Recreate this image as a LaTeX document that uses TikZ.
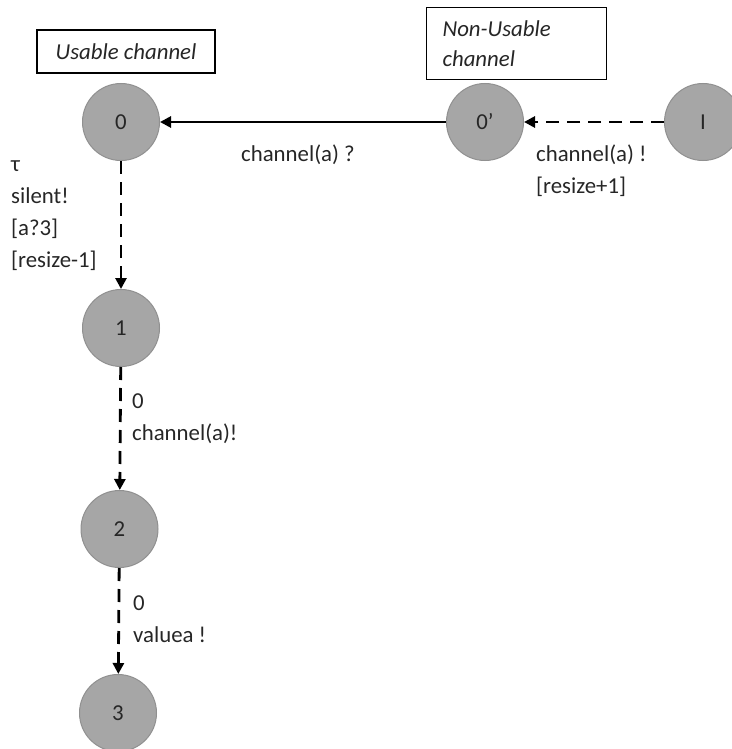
\documentclass[tikz,border=0pt]{standalone}
\usepackage{fontspec}
\setmainfont{Carlito}
\usetikzlibrary{arrows.meta}
\definecolor{stategray}{HTML}{A6A6A6}
\definecolor{stateedge}{HTML}{909090}
\definecolor{ink}{HTML}{262626}
\begin{document}
\begin{tikzpicture}[x=1pt,y=-1pt,
  every node/.style={font=\fontsize{22.8}{32}\selectfont, inner sep=0pt, text=ink},
  state/.style={circle, fill=stategray, draw=stateedge, line width=1pt, minimum size=77pt},
  tag/.style={draw=black, line width=1.1pt, font=\fontsize{22.8}{30}\selectfont\itshape},
  lbl/.style={align=left, anchor=west},
  trans/.style={line width=2.8pt, -{Triangle[length=11pt,width=11pt]}},
  dashtrans/.style={trans, dash pattern=on 13pt off 8pt}]
\useasboundingbox (0,0) rectangle (731,749);

% states
\node[state] (s0)  at (121,122) {0};
\node[state] (s0p) at (485,122) {0\textquoteright};
\node[state] (sI)  at (703,122) {I};
\node[state] (s1)  at (121,328) {1};
\node[state] (s2)  at (119.5,529) {2};
\node[state] (s3)  at (118,713) {3};

% region tags
\node[tag, minimum width=178pt, minimum height=43pt] (tagU) at (126,51.5) {Usable channel};
\node[tag, minimum width=180pt, minimum height=72pt, anchor=north west, align=left,
      text width=148pt] (tagN) at (426,7) {Non-Usable\\channel};

% transitions
\draw[trans] (s0p) -- (s0);
\draw[dashtrans] (sI) -- (s0p);
\draw[dashtrans] (s0) -- (s1);
\draw[dashtrans] (s1) -- (s2);
\draw[dashtrans] (s2) -- (s3);

% transition labels
\node[lbl] (l1) at (241,155) {channel(a) ?};
\node[lbl] (l2) at (536,171) {channel(a) !\\{}[resize+1]};
\node[lbl] (l3) at (11,216) {τ\\silent!\\{}[a?3]\\{}[resize-1]};
\node[lbl] (l4) at (132,419) {0\\channel(a)!};
\node[lbl] (l5) at (133,619) {0\\valuea !};
\end{tikzpicture}
\end{document}
